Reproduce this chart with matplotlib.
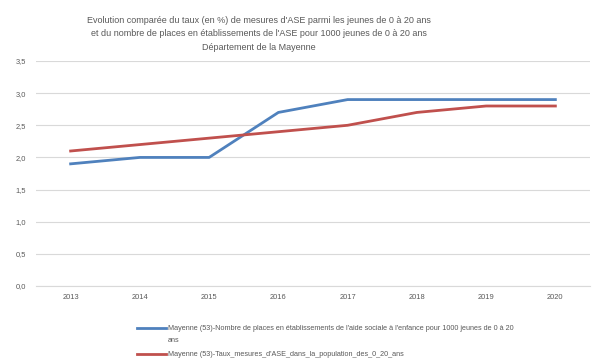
import matplotlib.pyplot as plt
from matplotlib.lines import Line2D

annees = ['2013', '2014', '2015', '2016', '2017', '2018', '2019', '2020']
places_etab = [1.9, 2.0, 2.0, 2.7, 2.9, 2.9, 2.9, 2.9]
taux_mesures = [2.1, 2.2, 2.3, 2.4, 2.5, 2.7, 2.8, 2.8]
yticks = [0, 0.5, 1.0, 1.5, 2.0, 2.5, 3.0, 3.5]

titre = ("Evolution comparée du taux (en %) de mesures d'ASE parmi les jeunes de 0 à 20 ans\n"
         "et du nombre de places en établissements de l'ASE pour 1000 jeunes de 0 à 20 ans\n"
         "Département de la Mayenne")
lab_bleu = ("Mayenne (53)-Nombre de places en établissements de l'aide sociale à l'enfance "
            "pour 1000 jeunes de 0 à 20")
lab_bleu_suite = "ans"
lab_rouge = "Mayenne (53)-Taux_mesures_d'ASE_dans_la_population_des_0_20_ans"

plt.rcParams['font.family'] = ['Liberation Sans', 'DejaVu Sans']
gris = '#595959'
bleu = '#4F81BD'
rouge = '#C0504D'

W, H = 605, 362
fig = plt.figure(figsize=(W / 100, H / 100), dpi=100)
ax = fig.add_axes([36 / W, 1 - 286 / H, 554 / W, 225 / H])

x = range(len(annees))
ax.plot(x, places_etab, color=bleu, lw=2)
ax.plot(x, taux_mesures, color=rouge, lw=2)

ax.set_xlim(-0.5, len(annees) - 0.5)
ax.set_ylim(0, 3.5)
ax.set_xticks(list(x))
ax.set_xticklabels(annees)
ax.set_yticks(yticks)
ax.set_yticklabels([f"{v:.1f}".replace('.', ',') for v in yticks])
ax.tick_params(length=0, labelsize=5.4, colors=gris)
ax.tick_params(axis='x', pad=6)
ax.tick_params(axis='y', pad=7)
ax.grid(axis='y', color='#D9D9D9', lw=0.8)
ax.set_axisbelow(True)
for s in ax.spines.values():
    s.set_visible(False)
ax.spines['bottom'].set_visible(True)
ax.spines['bottom'].set_color('#D9D9D9')

fig.text(259 / W, 1 - 16 / H, titre, ha='center', va='top', fontsize=6.5,
         color=gris, linespacing=1.62)

# legende (en bas, style Excel)
def entree(y_px, couleur, texte):
    y = 1 - y_px / H
    fig.add_artist(Line2D([137 / W, 166 / W], [y, y], color=couleur, lw=2,
                          transform=fig.transFigure))
    fig.text(168 / W, y, texte, ha='left', va='center', fontsize=5.2, color=gris)

entree(328, bleu, lab_bleu)
fig.text(168 / W, 1 - 340 / H, lab_bleu_suite, ha='left', va='center',
         fontsize=5.2, color=gris)
entree(354, rouge, lab_rouge)

fig.savefig('out.png', dpi=100)
